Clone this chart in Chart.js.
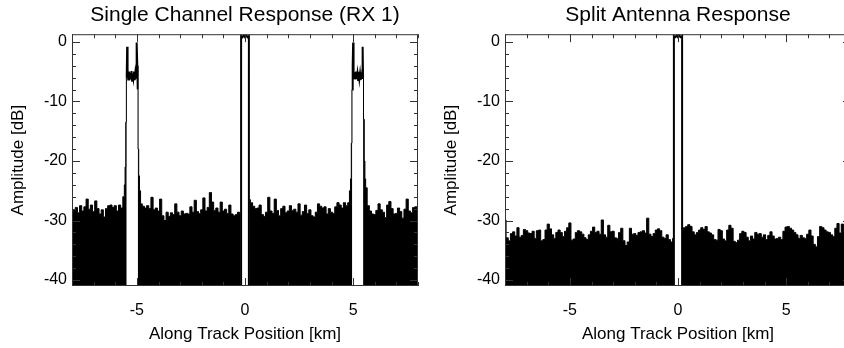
<!DOCTYPE html>
<html lang="en">
<head>
<meta charset="UTF-8">
<title>Single Channel vs Split Antenna Response</title>
<script src="https://cdn.jsdelivr.net/npm/chart.js@4.4.1/dist/chart.umd.min.js"></script>
<style>
  html, body { margin: 0; padding: 0; background: #fff; overflow: hidden; width: 844px; height: 348px; }
  .panel { position: absolute; top: 0; width: 434px; height: 348px; }
</style>
</head>
<body>
<div class="panel" style="left:0"><canvas id="rx1" width="434" height="348"></canvas></div>
<div class="panel" style="left:433px"><canvas id="split" width="434" height="348"></canvas></div>

<script>
// axis ticks
const xTicks = [-5, 0, 5];
const yTicks = [0, -10, -20, -30, -40];

// noise floor, sampled every 0.1 km from -8 to 8 (null = inside a lobe)
const gridStart = -8;
const gridStep = 0.1;

const rx1Amp = [
  -28.9, -28.3, -27.8, -28.7, -27.5, -28.4, -27.7, -26.4, -28.1, -27.4,
  -28.5, -26.7, -28.0, -28.9, -28.2, -29.4, -28.0, -27.5, -27.4, -27.8,
  -27.5, -28.4, -27.4, -27.9, -26.0, -13.5, null, null, null, null,
  null, -22.5, -27.2, -27.6, -27.9, -27.5, -28.0, -26.1, -28.2, -27.9,
  -28.4, -26.4, -29.2, -30.0, -28.6, -29.3, -28.7, -29.0, -27.2, -28.6,
  -29.2, -28.4, -28.9, -28.8, -28.9, -27.7, -28.6, -26.6, -28.5, -28.8,
  -28.2, -26.2, -28.4, -27.8, -25.3, -26.9, -28.3, -27.9, -28.6, -26.9,
  -28.4, -28.1, -28.8, -27.4, -28.9, -29.2, -29.0, -28.6, -29.0, null,
  null, null, -26.5, -27.0, -27.6, -28.0, -27.9, -27.4, -29.0, -29.3,
  -28.6, -26.1, -28.4, -28.8, -26.4, -28.3, -29.2, -28.0, -27.6, -28.7,
  -28.4, -27.5, -28.3, -28.1, -28.6, -27.2, -29.1, -28.5, -27.4, -28.8,
  -28.2, -29.2, -29.4, -28.6, -27.2, -27.6, -27.9, -27.7, -28.9, -28.0,
  -28.6, -28.8, -27.7, -27.0, -27.4, -27.9, -27.0, -27.5, -27.0, -23.0,
  null, null, null, null, null, -13.0, -24.5, -27.5, -28.4, -28.9,
  -29.0, -28.3, -27.2, -28.2, -28.6, -29.5, -27.4, -26.8, -28.0, -28.9,
  -28.8, -27.9, -28.5, -29.6, -28.1, -26.4, -28.4, -28.7, -27.8, -27.7,
  -28.0
];
// skirt points where the noise meets the ambiguity lobes
const rx1EdgePos = [-5.56, -5.53, -5.47, -4.96, -4.93, -4.86, 4.86, 4.93, 4.96, 5.46, 5.53, 5.56];
const rx1EdgeAmp = [-24, -21, -6, -8, -18, -25, -25, -17, -8, -6, -20, -23];
// lobe outlines (null separates lobes)
const rx1PeakPos = [
  -5.47, -5.45, -5.43, -5.40, -5.37, -5.34, -5.31, -5.28, -5.25, -5.22, -5.19, -5.16, -5.13, -5.10, -5.07, -5.04, -5.02, -5.00, -4.98, -4.96,
  -0.18,
  -0.18, -0.18, -0.12, -0.06, 0, 0.06, 0.12, 0.18, 0.18,
  4.96,
  4.96, 4.98, 5.00, 5.02, 5.05, 5.08, 5.11, 5.14, 5.17, 5.20, 5.23, 5.26, 5.29, 5.32, 5.35, 5.38, 5.41, 5.43, 5.44, 5.46
];
const rx1PeakAmp = [
  -6, -0.8, -4.6, -6.3, -5.0, -6.4, -5.2, -6.2, -4.9, -6.5, -5.3, -6.1, -5.0, -6.4, -5.2, -6.0, -4.8, -0.1, -4.0, -8,
  null,
  -41, 1.0, 0.8, 1.1, 0.8, 1.1, 0.8, 1.0, -41,
  null,
  -8, -4.0, -0.1, -4.9, -6.1, -5.1, -6.3, -5.0, -6.2, -5.3, -6.4, -5.0, -6.2, -5.3, -6.4, -5.1, -6.2, -4.7, -0.8, -6
];

const splitAmp = [
  -29.9, -32.9, -33.4, -32.2, -31.9, -32.6, -31.2, -32.8, -32.5, -31.5,
  -31.7, -32.1, -32.2, -31.8, -33.0, -31.7, -31.6, -33.4, -33.2, -31.6,
  -30.6, -31.4, -32.4, -33.0, -32.0, -31.6, -32.0, -32.7, -31.8, -31.2,
  -30.4, -33.3, -33.1, -32.0, -31.7, -31.9, -32.3, -32.9, -33.2, -32.4,
  -31.8, -31.1, -32.0, -31.8, -32.3, -29.9, -32.4, -32.8, -30.8, -31.9,
  -31.8, -32.9, -33.0, -32.0, -31.3, -33.4, -34.2, -33.6, -31.3, -32.3,
  -32.2, -32.5, -32.0, -31.9, -31.7, -32.1, -29.6, -32.3, -32.7, -32.2,
  -31.6, -31.4, -31.7, -32.8, -33.0, -32.4, -33.2, -33.6, -33.0, null,
  null, null, -31.5, -31.2, -31.0, -30.7, -31.0, -31.9, -32.4, -32.0,
  -31.6, -31.2, -31.5, -31.0, -31.9, -32.1, -32.4, -33.2, -33.3, -31.5,
  -31.7, -33.1, -33.4, -31.6, -30.8, -31.3, -33.5, -33.7, -33.3, -32.2,
  -31.8, -32.0, -32.8, -33.4, -32.6, -33.1, -32.0, -32.3, -32.2, -32.8,
  -32.4, -33.2, -32.5, -31.9, -32.6, -33.1, -33.0, -32.8, -33.2, -31.8,
  -31.1, -31.0, -31.3, -31.6, -32.0, -32.4, -33.0, -32.5, -32.9, -33.0,
  -32.3, -31.6, -32.6, -34.0, -34.4, -32.7, -31.0, -31.2, -31.6, -31.9,
  -32.0, -32.4, -32.7, -31.3, -30.5, -32.1, -30.6, -31.9, -32.3, -31.8,
  -32.5
];
const splitEdgePos = [];
const splitEdgeAmp = [];
const splitPeakPos = [-0.19, -0.19, -0.12, -0.06, 0, 0.06, 0.12, 0.19, 0.19];
const splitPeakAmp = [-41, 1.0, 0.8, 1.1, 0.8, 1.1, 0.8, 1.0, -41];

const FONT = "'Liberation Sans', Arial, Helvetica, sans-serif";
Chart.defaults.font.family = FONT;
Chart.defaults.color = '#000';

// IDL style box with inward ticks on all four sides
const boxFrame = {
  id: 'boxFrame',
  afterDatasetsDraw(chart) {
    const { ctx, chartArea: { left, right, top, bottom }, scales: { x, y } } = chart;
    ctx.save();
    ctx.strokeStyle = '#333';
    ctx.lineWidth = 1;
    ctx.strokeRect(left + 0.5, top + 0.5, right - left - 1, bottom - top - 1);
    ctx.beginPath();
    for (let v = -40; v <= 0; v += 2) {
      const py = Math.round(y.getPixelForValue(v)) + 0.5;
      const len = v % 10 === 0 ? 8 : 4;
      ctx.moveTo(left, py); ctx.lineTo(left + len, py);
      ctx.moveTo(right, py); ctx.lineTo(right - len, py);
    }
    for (let v = -8; v <= 8; v += 1) {
      const px = Math.round(x.getPixelForValue(v)) + 0.5;
      const len = v % 5 === 0 ? 8 : 4;
      ctx.moveTo(px, top); ctx.lineTo(px, top + len);
      ctx.moveTo(px, bottom); ctx.lineTo(px, bottom - len);
    }
    ctx.stroke();
    ctx.restore();
  }
};

function noisePoints(amp, edgePos, edgeAmp) {
  const pts = amp.map((v, i) => ({ x: Math.round((gridStart + i * gridStep) * 100) / 100, y: v }));
  edgePos.forEach((p, i) => pts.push({ x: p, y: edgeAmp[i] }));
  pts.sort((a, b) => a.x - b.x);
  return pts;
}

function makeChart(id, titleText, amp, edgePos, edgeAmp, peakPos, peakAmp) {
  return new Chart(document.getElementById(id), {
    type: 'line',
    data: {
      datasets: [
        {
          label: 'noise',
          data: noisePoints(amp, edgePos, edgeAmp),
          borderColor: '#000',
          backgroundColor: '#000',
          borderWidth: 1,
          pointRadius: 0,
          stepped: 'middle',
          fill: 'start'
        },
        {
          label: 'peak',
          data: peakPos.map((p, i) => ({ x: p, y: peakAmp[i] })),
          borderColor: '#000',
          borderWidth: 2,
          pointRadius: 0,
          tension: 0,
          fill: false
        }
      ]
    },
    options: {
      responsive: false,
      animation: false,
      layout: { padding: { right: 16 } },
      plugins: {
        legend: { display: false },
        tooltip: { enabled: false },
        title: {
          display: true,
          text: titleText,
          fullSize: false,
          color: '#000',
          font: { size: 21, weight: 'normal', family: FONT },
          padding: { top: 3, bottom: 6 }
        }
      },
      scales: {
        x: {
          type: 'linear',
          min: -8,
          max: 8,
          grid: { display: false, drawTicks: false },
          border: { display: false },
          afterBuildTicks: s => { s.ticks = xTicks.map(v => ({ value: v })); },
          afterFit: s => { s.height = 62; },
          ticks: { padding: 15, font: { size: 16 }, callback: v => String(v), maxRotation: 0 },
          title: {
            display: true,
            text: 'Along Track Position [km]',
            font: { size: 17 },
            padding: { top: 0, bottom: 3 }
          }
        },
        y: {
          type: 'linear',
          min: -41,
          max: 1.3,
          grid: { display: false, drawTicks: false },
          border: { display: false },
          afterBuildTicks: s => { s.ticks = yTicks.map(v => ({ value: v })); },
          afterFit: s => { s.width = 72; },
          ticks: { padding: 5, font: { size: 16 }, callback: v => String(v) },
          title: {
            display: true,
            text: 'Amplitude [dB]',
            font: { size: 17 },
            padding: { top: 8, bottom: 0 }
          }
        }
      }
    },
    plugins: [boxFrame]
  });
}

makeChart('rx1', 'Single Channel Response (RX 1)', rx1Amp, rx1EdgePos, rx1EdgeAmp, rx1PeakPos, rx1PeakAmp);
makeChart('split', 'Split Antenna Response', splitAmp, splitEdgePos, splitEdgeAmp, splitPeakPos, splitPeakAmp);
</script>
</body>
</html>
